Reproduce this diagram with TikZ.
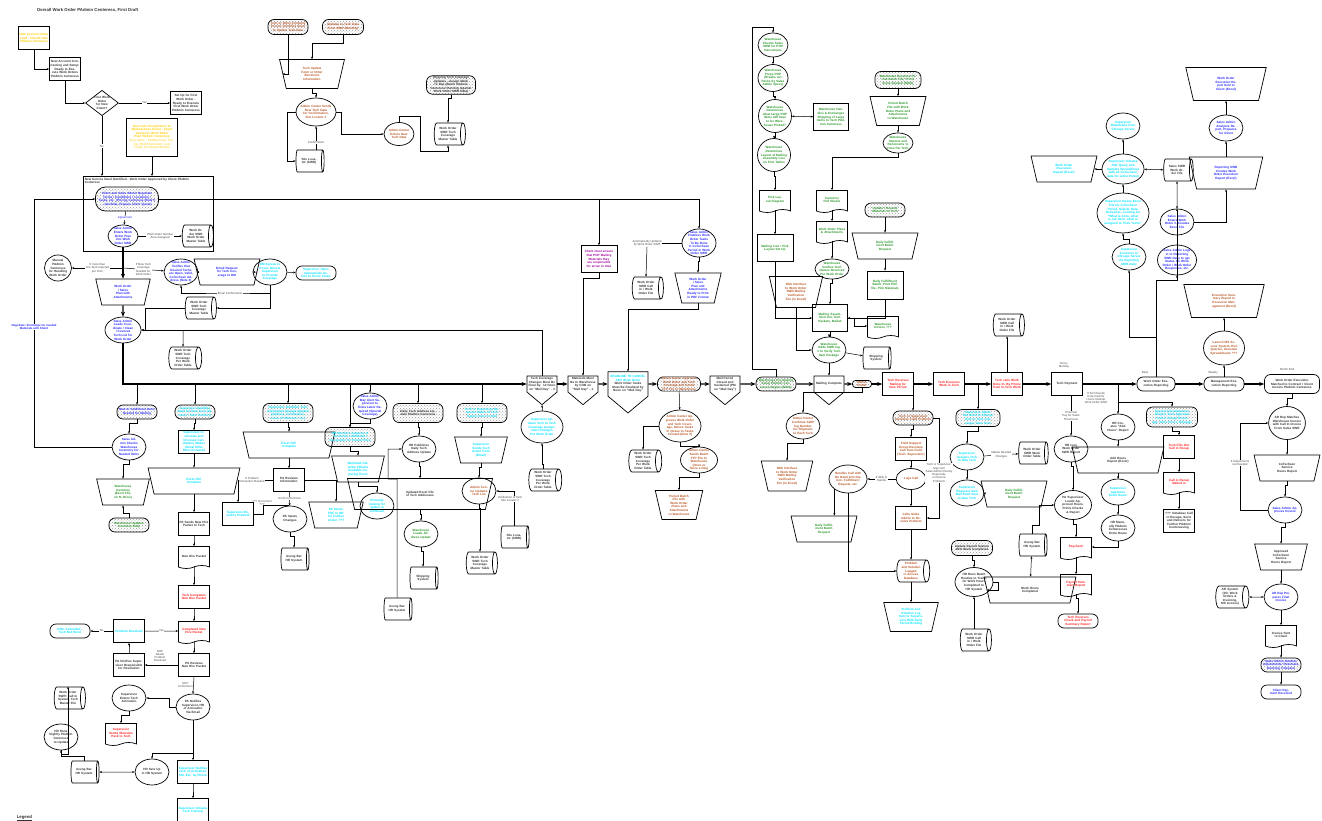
\documentclass[tikz,border=0pt]{standalone}
\usepackage{fontspec}
\setmainfont{Liberation Sans}
\usetikzlibrary{shapes.geometric,shapes.symbols,shapes.misc,arrows.meta,patterns,positioning}

\definecolor{cyel}{RGB}{255,204,0}
\definecolor{cblue}{RGB}{40,40,255}
\definecolor{ccyan}{RGB}{0,225,255}
\definecolor{cgreen}{RGB}{40,150,40}
\definecolor{cbrown}{RGB}{185,85,35}
\definecolor{cred}{RGB}{255,30,30}
\definecolor{cpurp}{RGB}{160,0,160}
\definecolor{cdark}{RGB}{50,50,50}

\tikzset{
  every node/.style={font=\fontsize{3.1}{3.6}\selectfont\bfseries, align=center, inner sep=0.6pt, text=cdark},
  box/.style={draw, line width=0.7pt},
  proc/.style={box, rectangle, minimum width=31pt, minimum height=23pt, text width=29pt},
  term/.style={box, rounded corners=6pt, minimum width=40pt, minimum height=14pt, text width=37pt},
  dotty/.style={term, pattern=crosshatch dots, pattern color=black!40},
  disp/.style={box, ellipse, minimum width=34pt, minimum height=26pt, text width=25pt, inner sep=-2pt},
  rnd/.style={box, circle, minimum size=33pt, text width=26pt, inner sep=-3pt},
  manop/.style={box, trapezium, trapezium angle=77, shape border rotate=180, minimum height=26pt, text width=22pt, inner sep=0.5pt},
  doc/.style={box, tape, tape bend top=none, tape bend height=3pt, minimum width=31pt, minimum height=22pt, text width=28pt},
  store/.style={box, cylinder, shape aspect=0.35, minimum height=23pt, minimum width=22pt, text width=23pt},
  pent/.style={box, signal, signal to=south, signal pointer angle=100, minimum width=30pt, minimum height=28pt, text width=27pt},
  lab/.style={font=\fontsize{2.9}{3.3}\selectfont, text=black!70},
  ar/.style={-{Stealth[length=2.5pt,width=2pt]}, line width=0.5pt},
  ar2/.style={{Stealth[length=2.5pt,width=2pt]}-{Stealth[length=2.5pt,width=2pt]}, line width=0.5pt},
  main/.style={-{Stealth[length=5pt,width=4pt]}, line width=1.2pt},
  jog/.style={to path={(\tikztostart.south) -- ++(0,4) -| (\tikztotarget.north)}},
  jogup/.style={to path={(\tikztostart.north) -- ++(0,-4) -| (\tikztotarget.south)}}
}

\begin{document}
\begin{tikzpicture}[x=1pt,y=-1pt]
\useasboundingbox (0,0) rectangle (1322,821);
\coordinate (bb) at (0,384);
\coordinate (jct) at (123,268);

\node[font=\fontsize{4.3}{5}\selectfont\bfseries, anchor=west] (title) at (36,10) {Overall Work Order PAdmin Centeress, First Draft};
\node[proc, text=cyel] (lead) at (34,38) {New Account Sales Lead - Closed Sale PAdmin Centeress};
\node[proc] (contract) at (65,69) {New Account Contracting and Setup: Ready to Execute Work Orders PAdmin Centeress};
\node[box, diamond, aspect=1.3, text width=16pt, inner sep=0pt] (first) at (102,103) {First Work Order for New Client?};
\node[proc] (setup) at (186,103) {Set Up for First Work Order - Ready to Execute First Work Order PAdmin Centeress};
\node[proc, text=cyel, minimum width=51pt, minimum height=38pt, text width=48pt] (newitem) at (152,137) {New Item Presentation to Manufacturer Client - Client Approves Work Order Plan PAdmin Centeress\\ \mdseries (Key Items - Slotting Fees, Pricing, Shelf Placement, Cost Funds (Promotion/funds))};
\node[box, minimum width=130pt, minimum height=75pt, anchor=north west] (need) at (83,176) {};
\node[anchor=north west, text width=110pt, align=left] (needt) at (84,177) {New Service Need Identified - Work Order Approved by Client PAdmin Centeress};
\node[dotty, text=cblue, minimum width=63pt, minimum height=24pt, text width=58pt, rounded corners=10pt] (nego) at (127,199) {Client and Sales Admin Negotiate Terms / Conditions / Locations / Tasks, etc. (Pricing Centeress (Bids?) - Get Bids, Prepare Client Quote)};
\node[disp, text=cblue, minimum width=30pt, minimum height=22pt] (enter) at (123,236) {Sales Admin Enters Work Order Plan into Work Order SWR};
\node[store] (womt) at (196,236) {Work Order SWR Work Order Master Table};

\node[disp, minimum width=27pt, minimum height=26pt, text width=20pt] (manual) at (58,268) {Manual PAdmin Centeress for Handling Work Order};
\node[disp, text=cblue] (verify) at (181,272) {Sales Admin Verifies that Desired Techs are Open, Valid, CoTechsen Address (Note 3)};
\node[manop, text=cblue] (email) at (227,272) {Email Request for Tech Coverage to DM};
\node[disp, text=ccyan] (dmok) at (270,272) {DM Agrees to Cover, Directs Supervisor to Provide Coverage};
\node[term, text=ccyan] (suptake) at (316,273) {Supervisor Takes Appropriate Action to Cover Tasks};
\node[store] (tcmt) at (199,308) {Work Order SWR Tech Coverage Master Table};
\node[manop, text=cblue] (wosp) at (123,292) {Work Order / Sales Plan with Attachments};
\node[disp, text=cblue, minimum width=36pt] (loads) at (123,330) {Sales Admin Loads Coordinate / Clean / Covered Tech List for Work Order};
\node[store] (tcpw1) at (183,358) {Work Order SWR Tech Coverage Per Work Order Table};

\node[dotty, text=cblue] (additem) at (137,412) {New or Additional Items Needed for Mailing};
\node[disp, text=cblue] (chkinv) at (129,447) {Sales Admin Checks Warehouse Inventory for Needed Items};
\node[manop, text=cgreen] (whinv) at (123,492) {Warehouse Inventory (Excel File, on N: Drive)};
\node[dotty, text=cgreen] (whupd) at (129,525) {Warehouse Updates Inventory Daily};

\node[dotty, text=ccyan] (newtech) at (195,412) {Supervisor Identifies Need for New Tech (Vacancy / New Territory)};
\node[proc, text=ccyan] (interv) at (194,442) {Supervisor Interviews and Chooses Candidates, Makes Verbal Offer, Offer Accepted};
\node[manop, text=ccyan] (paf1) at (194,481) {Excel PAF Complete};
\node[proc] (pasend) at (194,524) {PA Sends New Hire Packet to Tech};
\node[doc] (nhp) at (194,556) {New Hire Packet};
\node[proc, text=cred] (tcomp) at (194,597) {Tech Completes New Hire Packet};
\node[doc, text=cred] (cnhp) at (194,631) {Completed New Hire Packet};
\node[proc] (parev) at (194,665) {PA Reviews New Hire Packet};
\node[lab] (lnhp) at (160,656) {NHP\\Needs\\Problem\\Resolved};
\node[proc] (panot) at (129,665) {PA Notifies Supervisor Responsible for Resolution};
\node[proc, text=ccyan] (resolved) at (129,631) {Problem Resolved};
\node[term, text=ccyan] (cancel) at (70,631) {Offer Cancelled - Tech Not Hired};
\node[disp] (panotact) at (193,707) {PA Notifies Supervisor, HR of Activation Via Email};
\node[disp] (supact) at (129,698) {Supervisor Enters Tech Activation};
\node[doc, text=cred] (welcome) at (121,733) {Supervisor Sends Welcome Pack to Tech};
\node[store] (callsys) at (68,698) {Work Order SWR: Call In System, Tech Master File};
\node[disp] (hrnight) at (61,737) {HR Runs Nightly PAdmin Centeress to Update};
\node[store] (hrsys1) at (84,772) {Aveng Bar HR System};
\node[disp] (hrset) at (152,772) {HR Sets Up in HR System};
\node[proc, text=ccyan] (supnot) at (193,772) {Supervisor Notifies Tech of Activation, SSI, Etc. by Phone};
\node[proc, text=ccyan] (suptrain) at (193,810) {Supervisor Initiates Tech Training};
\node[font=\fontsize{4.3}{5}\selectfont\bfseries, anchor=west] (legend) at (16,818) {\underline{Legend}};

\node[dotty, text=ccyan, minimum width=50pt, minimum height=19pt, text width=46pt] (infochg) at (288,413) {Supervisor Identifies Tech Information Change Needed (Address, Termination, Leave of Absence, etc.)};
\node[manop, text=ccyan] (paf2) at (289,445) {Excel PAF Complete};
\node[proc] (parevinfo) at (289,480) {PA Reviews Information};
\node[proc, text=ccyan] (supres) at (238,514) {Supervisor Resolves Problem};
\node[disp] (painput) at (290,519) {PA Inputs Changes};
\node[manop, text=ccyan] (paf3) at (336,515) {PA Sends PAF to HR for Further Action ???};
\node[store] (hrsys2) at (294,559) {Aveng Bar HR System};

\node[disp, text=cblue] (alert) at (370,406) {Sales Admin May Alert Supervisor to Extra Labor Required (Special Coverage)};
\node[dotty, text=ccyan, minimum width=50pt, minimum height=19pt, text width=46pt] (dmmon) at (350,437) {DM Monitors Capacity of Territories / Workload / Geography for Future Hires};
\node[manop, text=ccyan] (wlcal) at (358,469) {Workload Calendar (Shows Available Capacity) Excel};
\node[disp, text=ccyan] (spikes) at (377,506) {Primarily looking for spikes in workload};

\node[dotty, minimum width=50pt, minimum height=19pt, text width=44pt] (addrupd) at (418,413) {Daily Tech Address Update PAdmin Centeress};
\node[disp] (hrpub) at (419,449) {HR Publishes Daily Tech Address Update};
\node[manop, minimum height=31pt, text width=28pt] (addrfile) at (420,494) {Updated Excel File of Tech Addresses};
\node[disp, text=cgreen] (whaddr) at (421,534) {Warehouse Loads Address Update};
\node[store] (ship1) at (423,578) {Shipping System};
\node[store] (hrsys3) at (397,609) {Aveng Bar HR System};

\node[dotty, text=ccyan, minimum width=50pt, minimum height=19pt, text width=46pt] (status) at (482,413) {Tech or Supervisor Requests Status of Tech Supply Items to Mail};
\node[manop, text=ccyan] (taf) at (481,450) {Supervisor Sends Tech Action Form (Email)};
\node[disp, text=cbrown] (acupd) at (479,491) {Admin Center Updates Tech List};
\node[store] (site2) at (514,537) {Site Locator (SWR)};
\node[store] (tcmt2) at (480,563) {Work Order SWR Tech Coverage Master Table};

\node[pent] (tcchg) at (542,384) {Tech Coverage Changes Must Be Final by: 12 Noon on "Mail Day" - 3};
\node[disp, text=ccyan, minimum width=42pt, minimum height=32pt, text width=32pt] (supupd) at (542,427) {Supervisor Updates Tech to Tech Coverage Assignment Changes Per Work Order};
\node[store] (tcpw2) at (543,480) {Work Order SWR Tech Coverage Per Work Order Table};
\node[pent] (matl) at (583,384) {Materials Must Be In Warehouse by COB on "Mail Day" - 1};
\node[proc, text=cpurp, minimum width=36pt, minimum height=27pt, text width=34pt] (popcli) at (599,259) {Client must ensure that POP Mailing Materials they are responsible for arrive in time};
\node[lab] (lauto) at (647,243) {Automatically Updated\\by Work Order SWR};
\node[store] (callwo1) at (646,288) {Work Order SWR Call in / Work Order File};
\node[disp, text=cblue] (final) at (699,243) {Sales Admin Finalizes Work Order Tasks To Be Done in CoTechsen Period in Work Order SWR};
\node[manop, text=cblue, minimum height=30pt] (woprint) at (698,288) {Work Order / Sales Plan and Attachments Ready to Print in PDF Format};
\node[pent, minimum width=40pt, minimum height=40pt, text width=36pt] (deadline) at (628,384) {\textcolor{ccyan}{DEADLINE TO CANCEL ANY Work Order}\\ Work Order Tasks Must Be Finalized by Noon on "Mail Day"};
\node[dotty, text=cbrown, minimum width=43pt, text width=40pt] (acappr) at (679,384) {Admin Center Approves Work Order and Tech Coverage and Sends FTP File to Warehouse};
\node[disp, text=cbrown, minimum width=42pt, minimum height=32pt, text width=32pt] (acmove) at (680,426) {Admin Center Approves Work Order and Tech Coverage, Moves Tasks in Queue to Tasks Created (Note 5)};
\node[store] (tcpw3) at (643,461) {Work Order SWR Tech Coverage Per Work Order Table};
\node[disp, text=cbrown, minimum width=37pt] (ftp) at (699,460) {Admin Center Sends Batch FTP File to Warehouse (Once or Twice a Day)};
\node[manop, text=cbrown, minimum height=29pt, text width=24pt] (pbf1) at (679,505) {Period Batch File with Work Order Plans and Attachments to Warehouse};

\node[pent] (mailclose) at (725,384) {Mail Period Closed and Sustained (PM on "Mail Day")};
\node[dotty, text=cgreen] (premail) at (776,384) {Warehouse Pre-Mailing Setup PAdmin Centeress Begins (NIGS)};
\node[pent] (mailcomp) at (829,384) {Mailing Complete};
\node[dotty, text=cbrown, minimum width=19pt, minimum height=7pt, text width=17pt, rounded corners=3pt] (acsmall) at (862,384) {Admin Center};
\node[proc, text=cred] (trecv) at (898,384) {Tech Receives Mailing for New Period};
\node[proc, text=cred] (texec) at (949,384) {Tech Executes Work in Tech};
\node[proc, text=cred] (tcall) at (1007,384) {Tech calls Work Done In, By Phone from In-Tech Work};
\node[proc] (tpay) at (1067,384) {Tech Payment};
\node[lab] (lmon) at (1064,365) {Every\\Monday};
\node[term, minimum width=38pt, text width=36pt] (woer) at (1156,384) {Work Order Execution Reporting};
\node[lab] (ldaily) at (1145,373) {Daily};
\node[term] (mer) at (1224,384) {Management Execution Reporting};
\node[lab] (lweek) at (1213,373) {Weekly};
\node[term, minimum width=55pt, minimum height=19pt, text width=52pt] (match) at (1292,384) {Work Order Execution Matched to Contract / Client Invoice PAdmin Centeress};
\node[lab] (lmend) at (1287,369) {Month End};

\node[disp, text=cgreen, minimum width=30pt, minimum height=24pt] (whchk) at (773,45) {Warehouse Checks Sales SWR for POP Instructions};
\node[disp, text=cgreen, minimum width=30pt, minimum height=27pt] (whprep) at (773,78) {Warehouse Preps POP (Breaks out Packs by Sales Admin Specs)};
\node[rnd, text=cgreen] (whlarge) at (775,116) {Warehouse Determines what Large POP Items will have to be Warehouse Picked?};
\node[proc, text=cgreen, minimum width=35pt, minimum height=27pt, text width=33pt] (whlg) at (831,117) {Warehouse Handles \& Exchanges Shipping of Large Items to Tech PAdmin Centeress};
\node[rnd, text=cgreen] (whlay) at (774,155) {Warehouse Determines Layout of Mailing Assembly Line on Pick Tables};
\node[doc, text=cgreen] (picklay) at (775,200) {Pick Layout Diagram};
\node[proc, text=cgreen, minimum width=36pt, minimum height=27pt] (mline) at (775,248) {Mailing Line / Pick Layout Set Up};
\node[dotty, text=cgreen, minimum width=46pt, minimum height=17pt, text width=44pt] (whrecv) at (898,80) {Warehouse Receives Period Batch File, Prints Items Needed (NIGS)};
\node[manop, text=cgreen, minimum height=29pt, text width=25pt] (pbf2) at (898,111) {Period Batch File with Work Order Plans and Attachments to Warehouse};
\node[disp, text=cgreen, minimum width=30pt, minimum height=20pt] (whimp) at (898,143) {Warehouse Imports and Reconverts to Files Per Tech};
\node[doc, text=cgreen] (pull) at (832,200) {Inventory Pull Sheets};
\node[doc, text=cgreen] (woplans) at (832,231) {Work Order Plans \& Attachments};
\node[disp, text=cgreen, minimum height=20pt] (whver) at (832,269) {Warehouse Verifies Tech Names Received Per Work Order};
\node[dotty, text=cgreen] (resend) at (885,210) {Update / Resend Materials to Tech};
\node[manop, text=cgreen] (dfb1) at (885,246) {Daily Fulfillment Batch Request};
\node[proc, text=cgreen, minimum width=36pt, minimum height=28pt] (dfbp) at (885,285) {Daily Fulfillment Batch, Print PDF file, Pick Materials};
\node[manop, text=cbrown, minimum height=31pt] (web1) at (796,292) {Web Interface to Work Order SWR Mailing Verification File (in Excel)};
\node[proc, text=cgreen, minimum width=35pt, minimum height=27pt] (massm) at (830,318) {Mailing Assembled into Tech Packets, Mailed};
\node[doc, text=cgreen] (whinvc) at (883,326) {Warehouse Invoice ???};
\node[disp, text=cgreen] (whadd) at (829,350) {Warehouse Adds SWR log \# to Verify Tech Item Package};
\node[store] (ship2) at (876,358) {Shipping System};

\node[disp, text=cbrown] (acconf) at (803,426) {Admin Center Confirms SWR log Number for Shipment to Each Tech};
\node[manop, text=cbrown, minimum height=30pt] (web2) at (787,476) {Web Interface to Work Order SWR Mailing Verification File (in Excel)};

\node[dotty, text=cbrown] (fprob) at (913,418) {Tech or Supervisor Identifies Field Problem};
\node[proc, text=cbrown] (fsg) at (911,449) {Field Support Group Receives Call from Field (Tech, Supervisor)};
\node[disp, text=cbrown, minimum width=25pt, minimum height=21pt] (logc) at (911,479) {Logs Call};
\node[disp, text=cbrown, minimum width=38pt, minimum height=28pt, text width=30pt] (handle) at (848,479) {Handles Call with On Hand Information, Fulfillment Request, etc.};
\node[manop, text=cgreen] (dfb2) at (824,529) {Daily Fulfillment Batch Request};
\node[proc, text=cbrown] (callsa) at (911,518) {Calls Sales Admin to Resolve Problem};
\node[store, text=cbrown] (plog) at (911,571) {Problem and Solution Logged in Access Database};
\node[manop, text=ccyan, minimum height=29pt, text width=25pt] (plogsent) at (911,617) {Problem and Solution Log Sent to Supervisors With Daily Period Briefing};

\node[dotty, text=ccyan, minimum width=44pt, minimum height=17pt] (covchg) at (978,418) {Supervisor Identifies Need to Change Tech to Tech Coverage / New Tech};
\node[disp, text=ccyan] (supassign) at (967,457) {Supervisor Assigns Tech to New Tech};
\node[store] (wot) at (1032,453) {Work Order SWR Work Order Table};
\node[disp, text=ccyan] (supreq) at (967,493) {Supervisor Requests New Mail Pack Sent to New Tech};
\node[manop, text=cgreen] (dfb3) at (1014,494) {Daily Fulfillment Batch Request};

\node[dotty, minimum width=41pt, minimum height=15pt] (payupd) at (972,548) {Update Payroll System With Work Completed};
\node[disp, minimum width=38pt, minimum height=29pt, text width=30pt] (hrbatch) at (974,582) {HR Runs Batch Routine to Transfer Work Hours Completed to HR System};
\node[store] (callwo2) at (974,640) {Work Order SWR Call in / Work Order File};
\node[manop] (whours) at (1030,590) {Work Hours Completed};
\node[store] (hrsys4) at (1032,545) {Aveng Bar HR System};
\node[store] (callwo3) at (1007,325) {Work Order SWR Call in / Work Order File};
\node[disp] (hrrep) at (1071,449) {HR runs Work Order SWR Report};
\node[lab] (lout) at (1096,398) {If Tech Needs\\to be Paid for\\Hours Outside\\Work Order SWR};
\node[disp] (hradd) at (1118,427) {HR Creates "Add Hours" Report};
\node[manop] (addrep) at (1118,460) {Add Hours Report (Excel)};
\node[disp, text=ccyan] (supappr) at (1118,492) {Supervisor Approves Extra Hours};
\node[disp, minimum width=37pt, minimum height=29pt] (paload) at (1073,505) {PA Supervisor Loads Approved Hours, Prints Checks \& Report};
\node[disp] (hrman) at (1118,528) {HR Manually PAdmin Centeresses Extra Hours};
\node[doc, text=cred] (check) at (1076,547) {Paycheck};
\node[doc, text=cred] (paysum) at (1076,584) {Payroll Summary Report};
\node[term, text=cred] (trcheck) at (1078,621) {Tech Receives Check and Payroll Summary Report};

\node[dotty, text=ccyan, minimum width=51pt, minimum height=20pt, text width=48pt] (special) at (1172,417) {Special Circumstances Require Tech Approval / Call-in Recap (Coverage, Extra Hours, Mileage)};
\node[proc, text=cred] (recap) at (1179,447) {Tech Fills Out Call in Recap};
\node[doc, text=cred] (recapm) at (1179,482) {Call in Recap Mailed in};
\node[proc] (recapdb) at (1179,521) {??? Database Call in Recaps, Sorts and Delivers for Further PAdmin Centeressing};

\node[disp, minimum width=36pt, minimum height=33pt, text width=30pt] (armatch) at (1287,423) {AR Rep Matches Warehouse Invoice with Call In Invoice From Sales SWR};
\node[manop] (cshr) at (1287,468) {CoTechsen Service Hours Report};
\node[disp, text=cblue] (saappr) at (1285,510) {Sales Admin Approves Invoice};
\node[manop] (acshr) at (1281,557) {Approved CoTechsen Service Hours Report};
\node[disp, text=cblue] (arprep) at (1281,597) {AR Rep Prepares Final Invoice};
\node[store] (arsys) at (1230,597) {AR System (15+ Work Orders \& Invoicing, MS Access)};
\node[doc] (invsent) at (1281,635) {Invoice Sent to Client};
\node[dotty, text=cblue] (sahandle) at (1281,665) {Sales Admin Handles Adjustments, Reversals, Dunning if Needed};
\node[term, text=cblue] (paid) at (1281,692) {Client Payment Received};

\node[manop, text=ccyan] (woerep) at (1064,169) {Work Order Execution Report (Excel)};
\node[disp, text=ccyan] (supdown) at (1123,126) {Supervisor Downloads from Chicago Server};
\node[disp, text=ccyan, minimum width=42pt, minimum height=30pt, text width=32pt] (supsql) at (1123,169) {Supervisor Initiates SQL Query and Updates Spreadsheet with all CoTechsen data for entire Period};
\node[store] (salesswr) at (1177,170) {Sales SWR Work Order File};
\node[disp, text=ccyan, minimum width=52pt, minimum height=40pt, text width=40pt] (supopen) at (1123,213) {Supervisor Opens Excel File for CoTechsen Period, Selects Data, Refreshes, Looking for "What is done, what is not done, what is assigned to Their Techs"};
\node[disp, text=ccyan] (supconn) at (1129,257) {Supervisor Connects to Chicago Server via Reporting SWR Daily};
\node[disp, text=cblue, minimum width=39pt, minimum height=30pt, text width=31pt] (salogs) at (1177,260) {Sales Admin Logs in to Reporting SWR Daily to get Status On Work Order / Work Order Responses, etc.};
\node[disp, text=cblue] (saent) at (1177,222) {Sales Admin Enters Work Order \#, Creates Excel File};
\node[manop, text=cblue, minimum height=32pt, text width=26pt] (rcreate) at (1226,173) {Reporting SWR Creates Work Order Execution Report (Excel)};
\node[disp, text=cblue] (saanal) at (1226,128) {Sales Admin Analyzes Report, Prepares for Client};
\node[manop, text=cblue, minimum height=33pt, text width=28pt] (wosent) at (1226,84) {Work Order Execution Report Sent to Client (Excel)};
\node[manop, text=cbrown, minimum height=33pt, text width=28pt] (execsum) at (1224,301) {Execution Summary Report to Execution Management (Excel)};
\node[disp, text=cbrown, minimum width=41pt, minimum height=34pt, text width=32pt] (launch) at (1224,348) {Launch MS Access System, Run Queries, Generate Spreadsheets ???};

\node[dotty, text=cbrown, minimum width=40pt, minimum height=15pt] (tupd) at (288,27) {Tech or Other Contacts Person Identifies Need to Update Tech Data};
\node[dotty, text=cbrown, minimum width=41pt, minimum height=15pt] (swrupd) at (343,27) {Updates to Tech Data From SWR (Monthly)};
\node[manop, text=cbrown, minimum height=29pt, text width=24pt] (tform) at (312,74) {Tech Update Form or Other Electronic Information};
\node[disp, text=cbrown, minimum width=40pt, minimum height=28pt, text width=31pt] (acsend) at (316,112) {Admin Center Sends New Tech Data for Confirmation, Site Locator \#};
\node[store] (site1) at (309,161) {Site Locator (SWR)};
\node[disp, text=cbrown, minimum width=30pt, minimum height=23pt] (acent) at (399,134) {Admin Center Enters New Tech Data};
\node[store] (tcmt3) at (448,134) {Work Order SWR Tech Coverage Master Table};
\node[dotty, minimum width=49pt, minimum height=18pt, text width=46pt] (ongoing) at (451,85) {Ongoing Tech Coverage Updates - Assign Work To Rep (Batch PAdmin Centeress Running Against Work Order SWR Data)};

% connectors
\draw[ar] (lead) |- (contract);
\draw[ar] (contract) |- (first);
\draw[ar] (first) -- node[lab, fill=white] {Yes} (setup);
\draw[ar] (first) -- node[lab, fill=white] {No} (first |- need.north);
\draw[ar] (newitem) -- (newitem |- need.north);
\draw[ar] (nego) -- node[lab, fill=white, text=cblue] {Agreement} (enter);
\draw[ar] (enter) -- node[lab, fill=white] {Work Order Number\\Auto-Assigned} (womt);
\draw[main] (enter) -- (wosp);
\draw[ar] (jct) -- node[lab, fill=white] {If more than\\one Tech required\\per Tech} (manual);
\draw[ar] (jct) -- node[lab, fill=white] {If New Tech\\Coverage\\Needed for\\Work Order} (verify);
\draw[main] (wosp) -- (loads);
\draw[ar] (dmok.south) |- (230,293) -| (verify.south);
\node[lab, fill=white] (lconf) at (230,293) {Email Confirmation};
\draw[ar] (dmok.south) |- (tcmt.east);
\draw[ar] (tcmt.west) -- (145,308) |- (loads.east);
\draw[ar] (tcchg.north) |- (loads.east);
\draw[ar] (tcpw1 |- loads.east) -- (tcpw1.north);
\draw[main] (loads.south) |- (tcchg.west);

\foreach \from/\to in {verify/email, email/dmok, dmok/suptake}
  \draw[ar] (\from) -- (\to);

\foreach \from/\to in {tcchg/matl, matl/deadline, deadline/acappr, acappr/mailclose, mailclose/premail, premail/mailcomp, mailcomp/acsmall, acsmall/trecv, trecv/texec, texec/tcall, tcall/tpay, tpay/woer, woer/mer, mer/match}
  \draw[main] (\from) -- (\to);

\foreach \vv in {additem, newtech, infochg, alert, dmmon, addrupd, status, fprob, covchg}
  \draw[ar] (\vv |- bb) -- (\vv);

\foreach \from/\to in {additem/chkinv, chkinv/whinv, newtech/interv, interv/paf1, paf1/pasend, pasend/nhp, nhp/tcomp, tcomp/cnhp, cnhp/parev, supact/welcome, supnot/suptrain, infochg/paf2, paf2/parevinfo, alert/dmmon, dmmon/wlcal, wlcal/spikes, addrupd/hrpub, hrpub/addrfile, addrfile/whaddr, whaddr/ship1, status/taf, taf/acupd, acupd/tcmt2, final/woprint, acmove/ftp, ftp/pbf1, whchk/whprep, whprep/whlarge, whlarge/whlay, whlay/picklay, picklay/mline, whrecv/pbf2, pbf2/whimp, whimp/pull, pull/woplans, woplans/whver, whver/massm, resend/dfb1, dfb1/dfbp, massm/whadd, whadd/mailcomp, acsmall/acconf, acconf/web2, fprob/fsg, fsg/logc, logc/callsa, callsa/plog, plog/plogsent, covchg/supassign, supassign/supreq, payupd/hrbatch, hradd/addrep, addrep/supappr, supappr/hrman, hrrep/paload, paload/check, check/paysum, paysum/trcheck, special/recap, recap/recapm, recapm/recapdb, match/armatch, armatch/cshr, cshr/saappr, saappr/acshr, acshr/arprep, arprep/invsent, invsent/sahandle, sahandle/paid, salogs/saent, tform/acsend, ongoing/tcmt3, hrnight/callsys}
  \draw[ar] (\from) to[jog] (\to);

\foreach \from/\to in {whupd/whinv, panot/resolved, tcpw2/supupd, supupd/tcchg, mer/launch, launch/execsum, rcreate/saanal, saanal/wosent, supconn/supopen, supopen/supsql, supsql/supdown, tcall/callwo3, callwo2/hrbatch, hrsys1/hrnight}
  \draw[ar] (\from) to[jogup] (\to);

\draw[ar] (chkinv.west) -- (34,447) |- (nego.west);
\node[lab, fill=white, text=cblue] (lnegx) at (34,327) {\bfseries Negotiate / Exchange for needed\\\bfseries Materials with Client};
\draw[ar] (nego.east) -| (final.north);
\draw[ar] (popcli |- nego.east) -- (popcli.north);
\draw (final.west) -- (lauto.east);
\draw[ar] (lauto.south) -- (callwo1.north);
\draw[ar] (woprint.south) -- ++(0,6) -| (deadline.north);
\draw[ar] (popcli.south) -- ++(0,5) -| (matl.north);
\draw[ar] (acappr) -- (acmove);
\draw[ar] (acmove.west) -| (tcpw3.north);

\draw[ar] (parev) -- (panot);
\draw[ar] (resolved) -- node[lab, fill=white] {Yes} (cnhp);
\draw[ar] (resolved) -- node[lab, fill=white] {No} (cancel);
\draw[ar] (parev.south) -- node[lab, left] {NHP\\CoTechsen} (panotact.north);
\draw[ar] (panotact.west) -- ++(-6,0) |- (supact.east);
\draw[ar] (panotact.south) -- (supnot.north);
\draw[ar] (panotact.south |- 0,753) -| (hrset.north);
\draw[ar2] (hrsys1) -- (hrset);

\draw[ar] (parevinfo.west) -| node[lab, fill=white, pos=0.3] {If Problem\\Resolution Needed} (supres.north);
\draw[ar] (parevinfo) -- node[lab, fill=white] {If Info CoTechsen} (painput);
\draw (supres.east) -- ++(9,0) |- (painput.north -| parevinfo.south);
\node[lab] (ldoc) at (262,503) {??? Document\\???};
\draw[ar] (parevinfo.east) -| (paf3.north);
\draw[ar] (painput) to[jog] (hrsys2);
\draw[ar] (hrsys3.north) -- (397,479) -- (388,479) |- (hrpub.west);
\draw[ar] (site2.north) |- (acupd.east);
\node[lab, fill=white] (lverif) at (510,499) {Verification of Tech\\Site Locator \#};

\draw[ar] (premail.north) -- ++(0,-7) -| (752,27) -| (whchk.north);
\draw[ar2] (whlarge) -- (whlg);
\draw[ar] (mline.south) |- (massm.west);
\draw[ar] (dfbp.south) |- (massm.east);
\draw[ar] (web1.south) |- (whadd.west);
\draw[ar] (massm.east) -- ++(6,0) |- (whinvc.west);
\draw[ar] (whadd) -- (ship2);

\draw[ar] (logc) -- node[lab, fill=white] {If Able to\\Handle} (handle);
\draw[ar] (handle.south west) -- (handle.south west |- dfb2.north);
\draw[ar] (handle.south) |- (plog.west);
\draw[ar] (fprob.east) -- ++(6,0) |- (callsa.east);
\node[lab, fill=white] (lsev) at (939,473) {Tech or Supervisor\\May Call\\Sales Admin Directly\\Especially\\on Severe\\Problems};
\draw[ar] (supassign) -- node[lab, fill=white] {Makes Needed\\Changes} (wot);
\draw[ar] (supreq) -- (dfb3);

\draw[ar] (hrbatch.east) -- ++(5,0) |- (whours.west);
\draw[ar2] (hrsys4) -- (whours);
\draw[ar] (hrsys4.north) -- ++(0,-8) -- ++(7,0) |- (paload.west);
\draw[ar] (tpay.south -| hrrep) -- node[lab, fill=white] {If Normal\\Pay for Sales\\That Hours} (hrrep);
\draw[ar] (hradd |- bb) -- (hradd);
\draw[ar] (hradd |- 0,402) -| (special.north);
\draw[ar] (hrman.south) |- (check.east);

\draw[ar] (woer.north) -- (woer.north |- 0,280) -| (salogs.south);
\draw[ar] (woer.north |- 0,337) -| (supconn.south);
\draw[ar] (supsql) -- (woerep);
\draw[ar2] (supsql) -- (salesswr);
\draw[ar2] (saent) -- (salesswr);
\draw[ar] (saent.east) -| (rcreate.south);
\draw[ar] (saappr.west) -- (1240,510) |- (armatch.west);
\node[lab, fill=white] (ladj) at (1240,463) {If Adjustments\\are Needed};
\draw[ar2] (arsys) -- (arprep);

\draw[ar] (tupd.south) |- (tform.west);
\draw[ar] (swrupd.south) -- ++(0,8) -| (tform.north);
\draw[ar] (acsend.west) -| (287,161) -- (site1.west);
\draw[ar] (site1.north -| acsend.south) -- node[lab, fill=white, pos=0.3] {Confirmation} (acsend.south);
\draw[ar] (acsend.east) -- ++(5,0) |- (acent.west);
\draw[ar] (acent.north) -- ++(0,-6) -| (420,151) -| (tcmt3.south);
\end{tikzpicture}
\end{document}
